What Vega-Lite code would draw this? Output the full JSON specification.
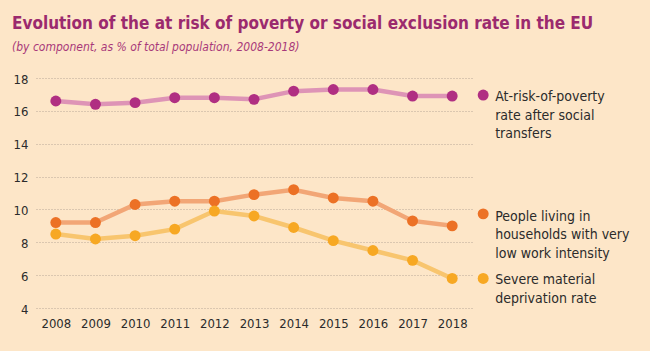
{
  "$schema": "https://vega.github.io/schema/vega-lite/v6.json",
  "width": 436,
  "height": 230,
  "autosize": {"type": "none"},
  "padding": {"left": 36, "top": 78, "right": 178, "bottom": 43},
  "background": "#FDE6C8",
  "title": {
    "text": "Evolution of the at risk of poverty or social exclusion rate in the EU",
    "subtitle": "(by component, as % of total population, 2008-2018)",
    "anchor": "start",
    "frame": "group",
    "dx": -24,
    "offset": 19,
    "font": "DejaVu Sans Condensed, sans-serif",
    "fontSize": 17,
    "fontWeight": "bold",
    "color": "#9B2A6E",
    "subtitleFont": "DejaVu Sans Condensed, sans-serif",
    "subtitleFontSize": 12,
    "subtitleFontStyle": "italic",
    "subtitleColor": "#A8397A",
    "subtitlePadding": 9
  },
  "config": {
    "view": {"stroke": null},
    "axis": {
      "labelFont": "DejaVu Sans Condensed, sans-serif",
      "labelFontSize": 13,
      "labelColor": "#2B2B2B",
      "domain": false,
      "ticks": false,
      "title": null
    }
  },
  "data": {
    "values": [
      {"year": 2008, "series": "arop", "value": 16.6},
      {"year": 2009, "series": "arop", "value": 16.4},
      {"year": 2010, "series": "arop", "value": 16.5},
      {"year": 2011, "series": "arop", "value": 16.8},
      {"year": 2012, "series": "arop", "value": 16.8},
      {"year": 2013, "series": "arop", "value": 16.7},
      {"year": 2014, "series": "arop", "value": 17.2},
      {"year": 2015, "series": "arop", "value": 17.3},
      {"year": 2016, "series": "arop", "value": 17.3},
      {"year": 2017, "series": "arop", "value": 16.9},
      {"year": 2018, "series": "arop", "value": 16.9},
      {"year": 2008, "series": "lwi", "value": 9.2},
      {"year": 2009, "series": "lwi", "value": 9.2},
      {"year": 2010, "series": "lwi", "value": 10.3},
      {"year": 2011, "series": "lwi", "value": 10.5},
      {"year": 2012, "series": "lwi", "value": 10.5},
      {"year": 2013, "series": "lwi", "value": 10.9},
      {"year": 2014, "series": "lwi", "value": 11.2},
      {"year": 2015, "series": "lwi", "value": 10.7},
      {"year": 2016, "series": "lwi", "value": 10.5},
      {"year": 2017, "series": "lwi", "value": 9.3},
      {"year": 2018, "series": "lwi", "value": 9.0},
      {"year": 2008, "series": "smd", "value": 8.5},
      {"year": 2009, "series": "smd", "value": 8.2},
      {"year": 2010, "series": "smd", "value": 8.4},
      {"year": 2011, "series": "smd", "value": 8.8},
      {"year": 2012, "series": "smd", "value": 9.9},
      {"year": 2013, "series": "smd", "value": 9.6},
      {"year": 2014, "series": "smd", "value": 8.9},
      {"year": 2015, "series": "smd", "value": 8.1},
      {"year": 2016, "series": "smd", "value": 7.5},
      {"year": 2017, "series": "smd", "value": 6.9},
      {"year": 2018, "series": "smd", "value": 5.8}
    ]
  },
  "encoding": {
    "x": {
      "field": "year",
      "type": "quantitative",
      "scale": {"domain": [2007.5, 2018.5], "nice": false, "zero": false},
      "axis": {"values": [2008, 2009, 2010, 2011, 2012, 2013, 2014, 2015, 2016, 2017, 2018], "format": "d", "grid": false, "labelPadding": 9}
    },
    "y": {
      "field": "value",
      "type": "quantitative",
      "scale": {"domain": [4, 18], "nice": false, "zero": false},
      "axis": {"values": [4, 6, 8, 10, 12, 14, 16, 18], "grid": true, "gridColor": "#B8A898", "gridDash": [1, 2], "gridWidth": 1, "labelPadding": 8, "labelBaseline": "top", "labelOffset": -5}
    }
  },
  "layer": [
    {
      "mark": {"type": "line", "strokeWidth": 4.5},
      "encoding": {
        "stroke": {
          "field": "series",
          "type": "nominal",
          "scale": {"domain": ["arop", "lwi", "smd"], "range": ["#DE94B6", "#F2A676", "#F8C56E"]},
          "legend": null
        }
      }
    },
    {
      "mark": {"type": "circle", "size": 120, "opacity": 1},
      "encoding": {
        "fill": {
          "field": "series",
          "type": "nominal",
          "scale": {"domain": ["arop", "lwi", "smd"], "range": ["#B02F82", "#EC7125", "#F7A823"]},
          "legend": null
        }
      }
    },
    {
      "transform": [{"filter": "datum.year == 2018 && datum.series == 'arop'"}],
      "layer": [
        {"mark": {"type": "circle", "size": 120, "opacity": 1, "color": "#B02F82", "xOffset": 31, "yOffset": -1}},
        {"mark": {"type": "text", "text": "At-risk-of-poverty\nrate after social\ntransfers", "lineBreak": "\n", "lineHeight": 18.5, "align": "left", "baseline": "top", "xOffset": 43, "yOffset": -6, "font": "DejaVu Sans Condensed, sans-serif", "fontSize": 14, "color": "#2B2B2B"}}
      ]
    },
    {
      "transform": [{"filter": "datum.year == 2018 && datum.series == 'lwi'"}],
      "layer": [
        {"mark": {"type": "circle", "size": 120, "opacity": 1, "color": "#EC7125", "xOffset": 31, "yOffset": -12}},
        {"mark": {"type": "text", "text": "People living in\nhouseholds with very\nlow work intensity", "lineBreak": "\n", "lineHeight": 18.5, "align": "left", "baseline": "top", "xOffset": 43, "yOffset": -16, "font": "DejaVu Sans Condensed, sans-serif", "fontSize": 14, "color": "#2B2B2B"}}
      ]
    },
    {
      "transform": [{"filter": "datum.year == 2018 && datum.series == 'smd'"}],
      "layer": [
        {"mark": {"type": "circle", "size": 120, "opacity": 1, "color": "#F7A823", "xOffset": 31, "yOffset": 0}},
        {"mark": {"type": "text", "text": "Severe material\ndeprivation rate", "lineBreak": "\n", "lineHeight": 18.5, "align": "left", "baseline": "top", "xOffset": 43, "yOffset": -5, "font": "DejaVu Sans Condensed, sans-serif", "fontSize": 14, "color": "#2B2B2B"}}
      ]
    }
  ]
}
